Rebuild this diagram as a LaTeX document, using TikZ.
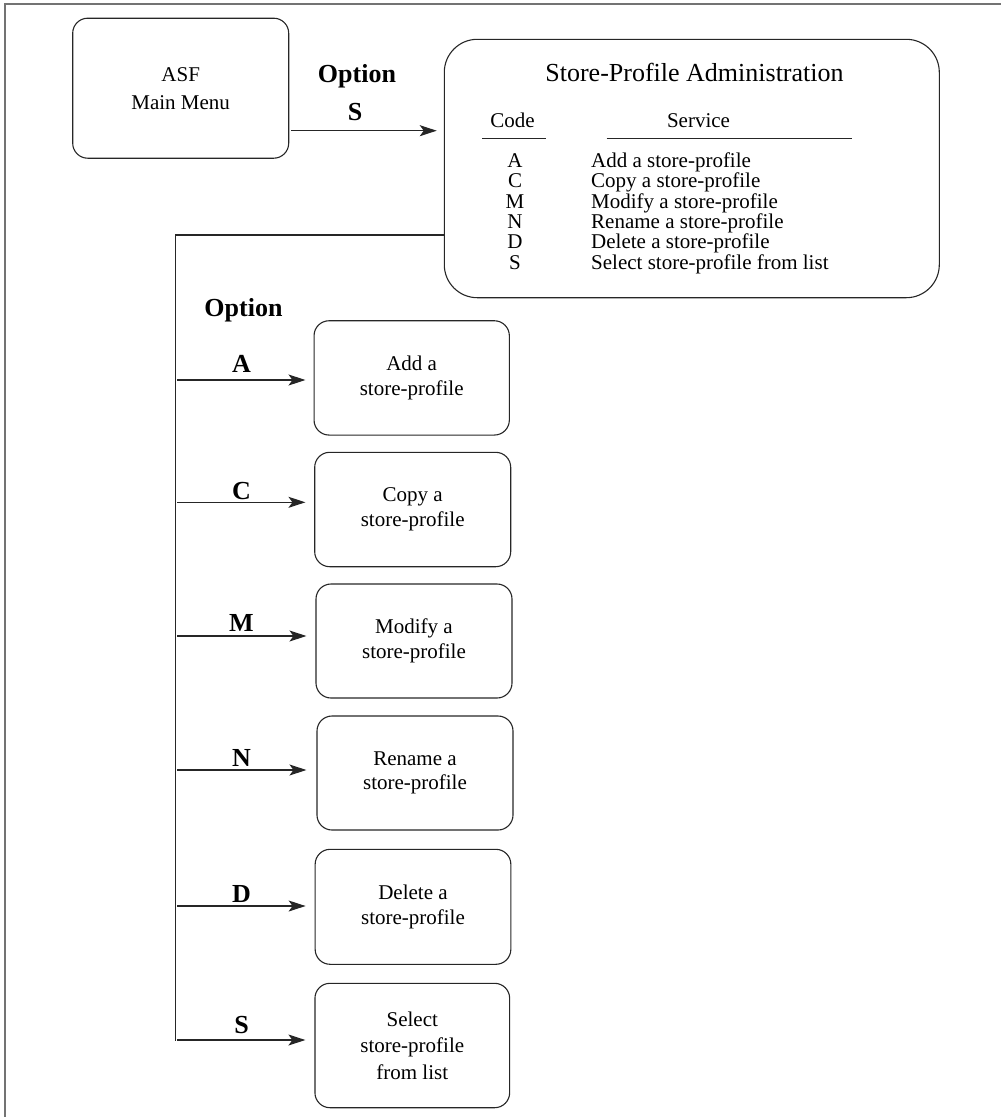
\documentclass[tikz,border=0pt]{standalone}
\usepackage{fontspec}
\setmainfont{Liberation Serif}
\usetikzlibrary{arrows.meta}
\begin{document}
\begin{tikzpicture}[x=1pt,y=-1pt,
  frame/.style={draw=black!55, line width=1.5pt},
  wire/.style={draw=black!85, line width=1.1pt},
  rule/.style={draw=black!85, line width=0.9pt},
  menubox/.style={draw=black!85, line width=1.1pt, rounded corners=15pt,
    align=center, inner sep=0pt, font=\fontsize{21}{24.5}\selectfont},
  bigbox/.style={draw=black!85, line width=1.1pt, rounded corners=33pt, inner sep=0pt},
  txt/.style={inner sep=0pt, font=\fontsize{21}{24}\selectfont},
  lbl/.style={inner sep=0pt, anchor=base, font=\fontsize{26}{30}\selectfont\bfseries},
  arr/.style={draw=black!85, line width=1.2pt,
    -{Stealth[length=17pt,width=11pt,inset=4pt]}}]
\useasboundingbox (0,0) rectangle (1001,1117);

% page frame (top and left edges only)
\draw[frame] (5,1117) -- (5,4) -- (1001,4);

% main menu and the administration screen
\node[menubox, minimum width=216pt, minimum height=140pt,
      font=\fontsize{21}{28}\selectfont] (asf) at (180.7,88.2) {ASF\\Main Menu};
\node[bigbox, minimum width=495pt, minimum height=258.4pt] (store) at (691.8,168.5) {};

\node[txt, anchor=base, font=\fontsize{26}{30}\selectfont] (title) at (694.5,81.6)
  {Store-Profile Administration};
\node[txt, anchor=base] (code) at (512.5,127) {Code};
\node[txt, anchor=base] (service) at (698.5,127) {Service};
\draw[rule] (482,138.3) -- (546,138.3);
\draw[rule] (606.7,138.3) -- (852,138.3);

\foreach \c/\s [count=\i from 0] in {A/Add a store-profile,C/Copy a store-profile,
    M/Modify a store-profile,N/Rename a store-profile,D/Delete a store-profile,
    S/Select store-profile from list}{
  \node[txt, anchor=base] (code\i) at (515,167.5+20.3*\i) {\c};
  \node[txt, anchor=base west] (svc\i) at (591,167.5+20.3*\i) {\s};
}

% option S from the main menu
\coordinate (s0) at (291,130.7);
\draw[arr, shorten >=7pt] (s0) -- (s0 -| store.west);
\node[lbl] (optS) at (357,82) {Option};
\node[lbl] (keyS) at (355,120) {S};

% service boxes
\node[menubox, minimum width=195.3pt, minimum height=114.3pt] (add) at (411.7,377.9) {Add a\\store-profile};
\node[menubox, minimum width=196pt, minimum height=114.4pt] (copy) at (412.7,509.5) {Copy a\\store-profile};
\node[menubox, minimum width=196pt, minimum height=114pt] (modify) at (414,641) {Modify a\\store-profile};
\node[menubox, minimum width=196pt, minimum height=114pt] (rename) at (415,773) {Rename a\\store-profile};
\node[menubox, minimum width=195.7pt, minimum height=115pt] (delete) at (413,906.8) {Delete a\\store-profile};
\node[menubox, minimum width=194.7pt, minimum height=124.4pt,
      font=\fontsize{21}{26.5}\selectfont] (select) at (412.3,1045.5) {Select\\store-profile\\from list};

% trunk from the administration screen
\coordinate (tt) at (175.7,235);
\coordinate (tb) at (175.7,1041);
\draw[wire] (store.west |- tt) -- (tt) -- (tb);
\node[lbl] (optlow) at (243.5,316) {Option};

% branches
\foreach \n/\y/\k/\ly/\sh in {add/380/A/372/8, copy/502.3/C/499/8.7, modify/636/M/631/9,
    rename/770/N/766/10, delete/906/D/902.5/9, select/1040/S/1033/9}{
  \coordinate (b\n) at (177,\y);
  \draw[arr, shorten >=\sh pt] (b\n) -- (b\n -| \n.west);
  \node[lbl] (k\n) at (241.5,\ly) {\k};
}
\end{tikzpicture}
\end{document}
